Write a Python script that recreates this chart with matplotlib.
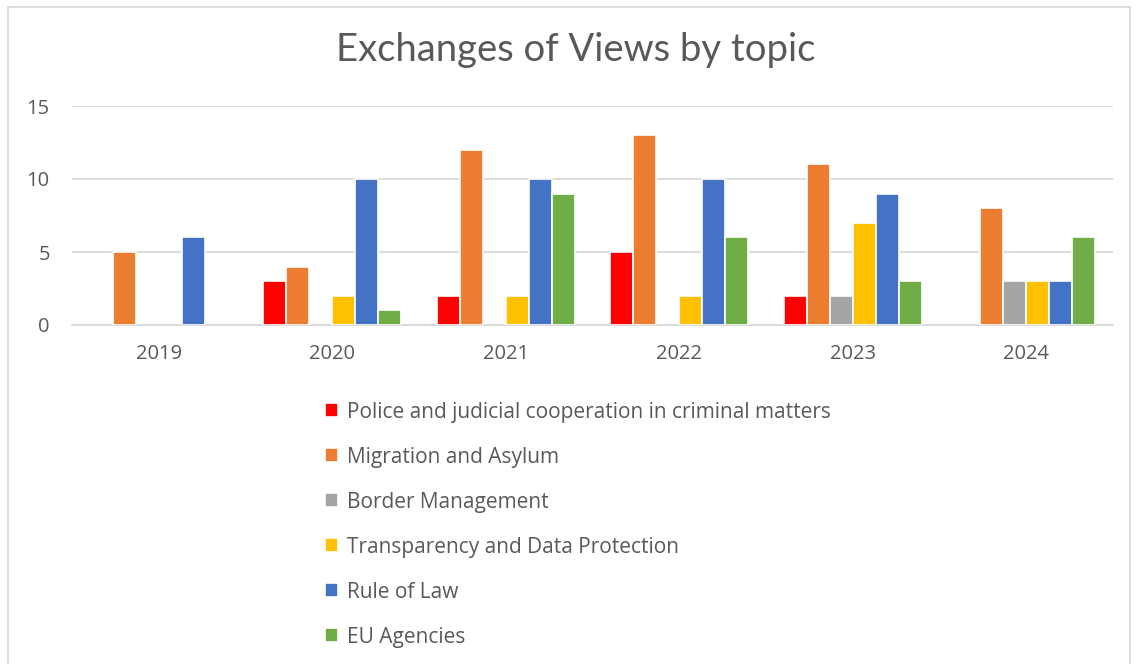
import matplotlib.pyplot as plt
import numpy as np
from matplotlib.patches import Rectangle

years = ['2019', '2020', '2021', '2022', '2023', '2024']
series_names = ['Police and judicial cooperation in criminal matters', 'Migration and Asylum',
                'Border Management', 'Transparency and Data Protection', 'Rule of Law', 'EU Agencies']
police = [0, 3, 2, 5, 2, 0]
migration = [5, 4, 12, 13, 11, 8]
border = [0, 0, 0, 0, 2, 3]
transparency = [0, 2, 2, 2, 7, 3]
rule_of_law = [6, 10, 10, 10, 9, 3]
eu_agencies = [0, 1, 9, 6, 3, 6]
colors = ['#ff0000', '#ed7d31', '#a5a5a5', '#ffc000', '#4472c4', '#70ad47']

text_col = '#595959'
plt.rcParams['font.family'] = ['Open Sans', 'DejaVu Sans']

fig = plt.figure(figsize=(11.37, 6.64), dpi=100)
ax = fig.add_axes([72 / 1137, 1 - 325 / 664, (1113 - 72) / 1137, (325 - 106) / 664])

x = np.arange(len(years))
slot = 0.133
all_series = [police, migration, border, transparency, rule_of_law, eu_agencies]
for i, (vals, name, c) in enumerate(zip(all_series, series_names, colors)):
    offs = (i - 2.5) * slot
    # zero values are not drawn (no empty stub at the baseline)
    v = np.array(vals, dtype=float)
    v[v == 0] = np.nan
    ax.bar(x + offs, v, width=slot, color=c, edgecolor='white', linewidth=1.2, label=name, zorder=3)

ax.set_xlim(-0.5, len(years) - 0.5)
ax.set_ylim(0, 15)
ax.set_yticks([0, 5, 10, 15])
ax.set_xticks(x)
ax.set_xticklabels(years)
ax.tick_params(length=0, labelsize=14.5, colors=text_col)
ax.tick_params(axis='x', pad=14)
ax.tick_params(axis='y', pad=16)
ax.grid(axis='y', color='#d9d9d9', linewidth=1.3, zorder=0)
for s in ['top', 'right', 'left']:
    ax.spines[s].set_visible(False)
ax.spines['bottom'].set_color('#d9d9d9')
ax.spines['bottom'].set_linewidth(1.3)

fig.text(576 / 1137, 1 - 50 / 664, 'Exchanges of Views by topic', ha='center', va='center',
         fontsize=27.5, color=text_col, family=['Lato', 'DejaVu Sans'])

fig.legend(loc='upper left', bbox_to_anchor=(306 / 1137, 1 - 383 / 664), frameon=False,
           fontsize=15, labelcolor=text_col, labelspacing=1.15, handlelength=0.65,
           handleheight=0.65, handletextpad=0.4)

fig.patches.append(Rectangle((8 / 1137, -0.01), 1122 / 1137, 1.0, transform=fig.transFigure,
                             fill=False, edgecolor='#d9d9d9', linewidth=1.3))

fig.savefig('out.png', dpi=100)
